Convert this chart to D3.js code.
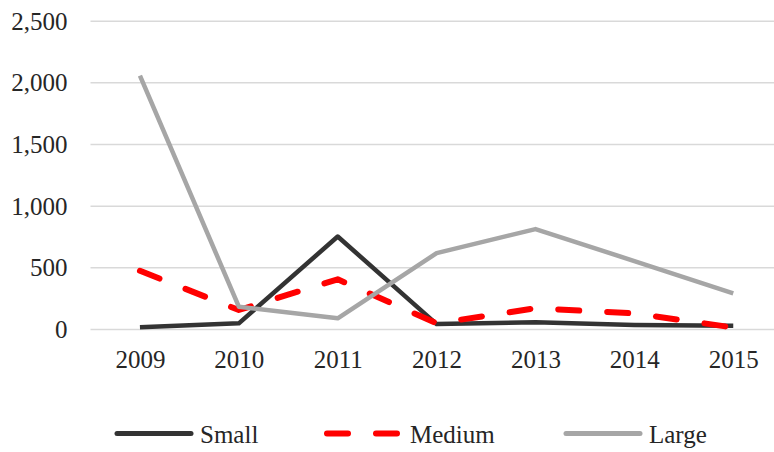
<!DOCTYPE html>
<html>
<head>
<meta charset="utf-8">
<script src="https://cdnjs.cloudflare.com/ajax/libs/d3/7.8.5/d3.min.js"></script>
<style>
  body { margin: 0; background: #fff; }
</style>
</head>
<body>
<div id="chart"></div>
<script>
// data
let years = ["2009", "2010", "2011", "2012", "2013", "2014", "2015"];
let small = [14, 46, 750, 40, 54, 32, 27];
let medium = [472, 154, 403, 46, 168, 127, 12];
let large = [2055, 181, 87, 615, 810, 551, 289];
let yTicks = [0, 500, 1000, 1500, 2000, 2500];

let seriesNames = ["Small", "Medium", "Large"];
let seriesValues = [small, medium, large];

let serif = "Liberation Serif";

// svg params
let svgWidth = 774;
let svgHeight = 452;

let svg = d3.select("#chart")
    .append("svg")
    .attr("width", svgWidth)
    .attr("height", svgHeight);

// plot area (runs a bit past the right edge, as in the original)
let plotLeft = 90.5;
let plotRight = 782.7;
let plotTop = 20.7;
let plotBottom = 329;

let xScale = d3.scalePoint()
    .domain(years)
    .range([plotLeft, plotRight])
    .padding(0.5);

let yScale = d3.scaleLinear()
    .domain([0, 2500])
    .range([plotBottom, plotTop]);

// gridlines + y labels
let yAxis = d3.axisLeft(yScale)
    .tickValues(yTicks)
    .tickFormat(d3.format(","))
    .tickSize(-(plotRight - plotLeft))
    .tickPadding(23);

let yG = svg.append("g")
    .attr("transform", `translate(${plotLeft}, 0)`)
    .call(yAxis);
yG.select(".domain").remove();
yG.selectAll(".tick line")
    .attr("stroke", "#d9d9d9")
    .attr("stroke-width", 1.5);
yG.selectAll(".tick text")
    .attr("font-family", serif)
    .attr("font-size", "25px")
    .attr("dy", "0.34em")
    .attr("fill", "#262626");

// x labels
let xAxis = d3.axisBottom(xScale).tickSize(0).tickPadding(21);
let xG = svg.append("g")
    .attr("transform", `translate(0, ${plotBottom})`)
    .call(xAxis);
xG.select(".domain").remove();
xG.selectAll(".tick text")
    .attr("font-family", serif)
    .attr("font-size", "25px")
    .attr("fill", "#262626");

// line styles
let styles = [
    { color: "#333333", width: 4.5, dash: null },
    { color: "#ff0000", width: 6, dash: "21 28" },
    { color: "#a6a6a6", width: 4.5, dash: null }
];

let line = d3.line()
    .x((d, i) => xScale(years[i]))
    .y(d => yScale(d));

seriesValues.forEach(function (vals, i) {
    svg.append("path")
        .datum(vals)
        .attr("d", line)
        .attr("fill", "none")
        .attr("stroke", styles[i].color)
        .attr("stroke-width", styles[i].width)
        .attr("stroke-linejoin", "round")
        .attr("stroke-linecap", styles[i].dash ? "round" : "butt")
        .attr("stroke-dasharray", styles[i].dash);
});

// legend
let legendY = 433.5;
let legendX = [117, 327, 566];
let legend = svg.append("g");

seriesNames.forEach(function (name, i) {
    let g = legend.append("g")
        .attr("transform", `translate(${legendX[i]}, ${legendY})`);
    g.append("line")
        .attr("x1", 0)
        .attr("x2", 74)
        .attr("stroke", styles[i].color)
        .attr("stroke-width", i === 1 ? 6 : 5)
        .attr("stroke-linecap", "round")
        .attr("stroke-dasharray", i === 1 ? "21 28" : null);
    g.append("text")
        .attr("x", 83)
        .attr("y", 9)
        .attr("font-family", serif)
        .attr("font-size", "25px")
        .attr("fill", "#262626")
        .text(name);
});
</script>
</body>
</html>
